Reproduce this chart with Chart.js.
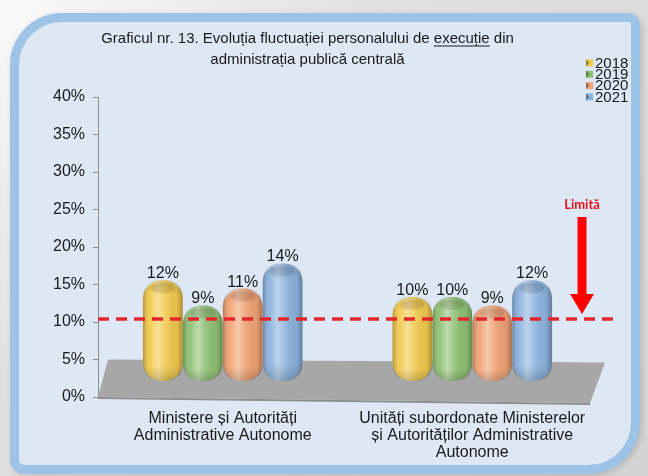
<!DOCTYPE html>
<html><head><meta charset="utf-8">
<script src="https://cdn.jsdelivr.net/npm/chart.js@4.4.1/dist/chart.umd.min.js"></script>
<style>
html,body{margin:0;padding:0;}
body{width:648px;height:476px;overflow:hidden;position:relative;
  background:linear-gradient(135deg,#fafafa 0%,#e0e0e0 35%,#d4d4d4 100%);}
#panel{position:absolute;left:10px;top:13px;width:612px;height:443px;border:9px solid #9dc3e6;
  background:#dde8f4;border-radius:52px 12px 52px 14px;box-shadow:2px 2px 6px rgba(0,0,0,0.15);}
#c{position:absolute;left:0;top:0;}
</style></head><body>
<div id="panel"></div>
<canvas id="c" width="648" height="476"></canvas>
<script>
// ---- data ----
const titleLines = ["Graficul nr. 13. Evoluția fluctuației personalului de execuție din", "administrația publică centrală"];
const underlinedWord = "execuție";
const categories = [["Ministere și Autorități", "Administrative Autonome"], ["Unități subordonate Ministerelor", "și Autorităților Administrative", "Autonome"]];
const years = ["2018", "2019", "2020", "2021"];
const values2018 = [12, 10];
const values2019 = [9, 10];
const values2020 = [11, 9];
const values2021 = [14, 12];
const yTickLabels = [0, 5, 10, 15, 20, 25, 30, 35, 40];
const limitValue = 10.4;
const limitLabel = "Limită";

const colors = ["#f2cb4e", "#8fc173", "#f1a374", "#8db4df"];
const FONT = '"Liberation Sans", Arial, sans-serif';
const TITLE_SIZE = 15, TITLE_LH = 21, TITLE_PAD_TOP = 12;

function rr(ctx, l, t, w, h, r) {
  r = Math.min(r, w / 2, h / 2);
  ctx.beginPath();
  ctx.moveTo(l + r, t);
  ctx.lineTo(l + w - r, t); ctx.quadraticCurveTo(l + w, t, l + w, t + r);
  ctx.lineTo(l + w, t + h - r); ctx.quadraticCurveTo(l + w, t + h, l + w - r, t + h);
  ctx.lineTo(l + r, t + h); ctx.quadraticCurveTo(l, t + h, l, t + h - r);
  ctx.lineTo(l, t + r); ctx.quadraticCurveTo(l, t, l + r, t);
  ctx.closePath();
}

const deco = {
  id: 'deco',
  beforeDatasetsDraw(chart) {
    const { ctx, chartArea: a, scales: { y } } = chart;
    const yb = y.getPixelForValue(0), yt = y.getPixelForValue(5);
    ctx.save();
    // floor plate
    ctx.fillStyle = '#8e8e8e';
    ctx.beginPath();
    ctx.moveTo(a.left, yb); ctx.lineTo(a.right - 7, yb + 6); ctx.lineTo(a.right - 7, yb + 8); ctx.lineTo(a.left, yb + 2);
    ctx.closePath(); ctx.fill();
    ctx.fillStyle = '#a7a7a7';
    ctx.beginPath();
    ctx.moveTo(a.left, yb); ctx.lineTo(a.left + 10, yt); ctx.lineTo(a.right + 8, yt + 3); ctx.lineTo(a.right - 7, yb + 6);
    ctx.closePath(); ctx.fill();
    ctx.restore();
  },
  afterDatasetsDraw(chart) {
    const ctx = chart.ctx;
    chart.data.datasets.forEach((ds, di) => {
      chart.getDatasetMeta(di).data.forEach(el => {
        const { x, y, base, width } = el.getProps(['x', 'y', 'base', 'width'], true);
        const l = x - width / 2, h = base - y;
        ctx.save();
        rr(ctx, l, y, width, h, 19);
        ctx.clip();
        const g = ctx.createLinearGradient(l, 0, l + width, 0);
        g.addColorStop(0, 'rgba(0,0,0,0.28)');
        g.addColorStop(0.18, 'rgba(255,255,255,0.05)');
        g.addColorStop(0.38, 'rgba(255,255,255,0.42)');
        g.addColorStop(0.55, 'rgba(255,255,255,0.12)');
        g.addColorStop(0.85, 'rgba(0,0,0,0.06)');
        g.addColorStop(1, 'rgba(0,0,0,0.30)');
        ctx.fillStyle = g;
        ctx.fillRect(l, y, width, h);
        const gv = ctx.createLinearGradient(0, y, 0, base);
        gv.addColorStop(0, 'rgba(0,0,0,0.10)');
        gv.addColorStop(0.15, 'rgba(0,0,0,0)');
        gv.addColorStop(0.85, 'rgba(0,0,0,0)');
        gv.addColorStop(1, 'rgba(0,0,0,0.18)');
        ctx.fillStyle = gv;
        ctx.fillRect(l, y, width, h);
        ctx.fillStyle = 'rgba(0,0,0,0.10)';
        ctx.beginPath(); ctx.ellipse(x, y + 8, width * 0.3, 5, 0, 0, Math.PI * 2); ctx.fill();
        ctx.restore();
      });
    });
  },
  afterDraw(chart) {
    const { ctx, chartArea: a, scales: { y } } = chart;
    ctx.save();
    // limit line
    const ly = y.getPixelForValue(limitValue);
    ctx.strokeStyle = '#e3262b'; ctx.lineWidth = 3.5; ctx.setLineDash([11, 7]);
    ctx.beginPath(); ctx.moveTo(a.left, ly); ctx.lineTo(a.right + 18, ly); ctx.stroke();
    ctx.setLineDash([]);
    // data labels
    ctx.fillStyle = '#1a1a1a'; ctx.font = '16px ' + FONT; ctx.textAlign = 'center'; ctx.textBaseline = 'alphabetic';
    chart.data.datasets.forEach((ds, di) => {
      chart.getDatasetMeta(di).data.forEach((el, i) => {
        ctx.fillText(ds.data[i] + '%', el.x, el.y - 2);
      });
    });
    // arrow + label
    const ax = a.right - 15, atop = y.getPixelForValue(24), tip = ly - 5;
    ctx.fillStyle = '#ff0000';
    ctx.fillRect(ax - 4.5, atop, 9, tip - 20 - atop);
    ctx.beginPath(); ctx.moveTo(ax - 12, tip - 20); ctx.lineTo(ax + 12, tip - 20); ctx.lineTo(ax, tip); ctx.closePath(); ctx.fill();
    ctx.fillStyle = '#e3141c'; ctx.font = 'bold 13px Lato, "Open Sans", sans-serif';
    ctx.textBaseline = 'middle';
    ctx.fillText(limitLabel, ax, atop - 12);
    // legend
    ctx.font = '15px ' + FONT; ctx.textAlign = 'left'; ctx.textBaseline = 'middle';
    chart.data.datasets.forEach((ds, i) => {
      const cy = 63 + i * 11.3;
      const bx = 586;
      ctx.fillStyle = ds.backgroundColor;
      ctx.fillRect(bx, cy - 3.5, 7, 7);
      ctx.fillStyle = 'rgba(0,0,0,0.35)';
      ctx.beginPath(); ctx.moveTo(bx, cy - 3.5); ctx.lineTo(bx + 3.5, cy); ctx.lineTo(bx, cy + 3.5); ctx.closePath(); ctx.fill();
      ctx.fillStyle = '#1a1a1a';
      ctx.fillText(ds.label, bx + 9, cy + 0.5);
    });
    // underline in title
    const tb = chart.titleBlock;
    const cx = (tb.left + tb.right) / 2;
    const cy1 = tb.top + TITLE_PAD_TOP + TITLE_LH / 2;
    ctx.font = TITLE_SIZE + 'px ' + FONT;
    const line = titleLines[0];
    const idx = line.indexOf(underlinedWord);
    const start = cx - ctx.measureText(line).width / 2 + ctx.measureText(line.slice(0, idx)).width;
    const w = ctx.measureText(underlinedWord).width;
    ctx.fillStyle = '#1a1a1a';
    ctx.fillRect(start, cy1 + 7, w, 1);
    ctx.restore();
  }
};

const datasets = [values2018, values2019, values2020, values2021].map((v, i) => ({
  label: years[i],
  data: v,
  backgroundColor: colors[i],
  borderWidth: 0,
  borderRadius: 19,
  borderSkipped: false,
  yAxisID: 'y2',
  categoryPercentage: 0.64,
  barPercentage: 1.0
}));

new Chart(document.getElementById('c'), {
  type: 'bar',
  data: { labels: categories, datasets },
  options: {
    responsive: false,
    animation: false,
    layout: { padding: { left: 18, right: 51, top: 16, bottom: 0 } },
    plugins: {
      legend: { display: false },
      tooltip: { enabled: false },
      title: {
        display: true, text: titleLines, color: '#1a1a1a',
        font: { family: FONT, size: TITLE_SIZE, lineHeight: TITLE_LH / TITLE_SIZE, weight: 'normal' },
        padding: { top: TITLE_PAD_TOP, bottom: 27 }
      }
    },
    scales: {
      x: {
        afterFit(s) { s.height = 79; },
        grid: { display: false, drawTicks: false },
        border: { display: false },
        ticks: { color: '#1a1a1a', font: { family: FONT, size: 16, lineHeight: 1.06 }, padding: 13, maxRotation: 0, autoSkip: false }
      },
      y: {
        min: 0, max: 40,
        afterFit(s) { s.width = 80; },
        border: { display: true, color: '#8c8c8c' },
        grid: { drawOnChartArea: false, color: '#8c8c8c', tickLength: 5 },
        ticks: {
          stepSize: 2.5, padding: 8, color: '#1a1a1a', font: { family: FONT, size: 16 },
          callback: v => yTickLabels.includes(v) ? v + '%' : ''
        }
      },
      y2: { display: false, min: -1.9, max: 33.8 }
    }
  },
  plugins: [deco]
});
</script>
</body></html>
